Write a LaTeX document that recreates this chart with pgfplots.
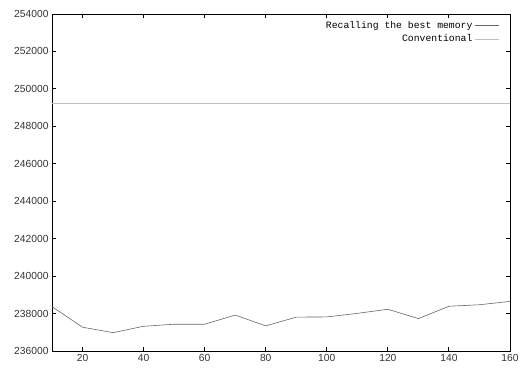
\documentclass[border=0pt]{standalone}
\usepackage{pgfplots}
\pgfplotsset{compat=1.18}
\usepackage{fontspec}
\setmainfont{Liberation Sans}
\newfontfamily\legfont{Liberation Mono}
\begin{document}
\begin{tikzpicture}
\begin{axis}[
  at={(0,0)}, anchor=south west,
  scale only axis,
  width=458bp, height=337bp,
  xmin=10, xmax=160,
  ymin=236000, ymax=254000,
  xtick={20,40,...,160},
  ytick={236000,238000,...,254000},
  scaled y ticks=false,
  yticklabel style={/pgf/number format/.cd, fixed, 1000 sep={}, assume math mode=true},
  xticklabel style={/pgf/number format/assume math mode=true},
  tick label style={font=\fontsize{10.3}{12}\selectfont, text=black!80},
  tick align=inside,
  major tick length=4bp,
  axis line style={black, line width=0.9pt},
  tick style={black, line width=0.9pt},
  legend style={draw=none, fill=none, at={(rel axis cs:0.978,0.979)}, anchor=north east,
    font=\legfont\fontsize{9.8}{11}\selectfont, row sep=5pt, inner sep=0pt,
    nodes={inner xsep=2.5bp, inner ysep=0pt}},
  legend image code/.code={\draw[#1] (0bp,0bp) -- (24bp,0bp);},
  legend plot pos=right,
  legend cell align=right,
]
\addplot[color=black!60, line width=0.6pt, mark=none] coordinates {
(10,238370) (20,237270) (30,236980) (40,237320) (50,237430) (60,237430)
(70,237920) (80,237340) (90,237810) (100,237820) (110,238010) (120,238230)
(130,237730) (140,238390) (150,238470) (160,238650)
};
\addlegendentry{Recalling the best memory}
\addplot[color=black!25, line width=0.8pt, mark=none] coordinates {
(10,249200) (160,249200)
};
\addlegendentry{Conventional}
\end{axis}
\pgfresetboundingbox
\path[use as bounding box] (-52bp,-18bp) rectangle (468bp,351bp);
\end{tikzpicture}
\end{document}
